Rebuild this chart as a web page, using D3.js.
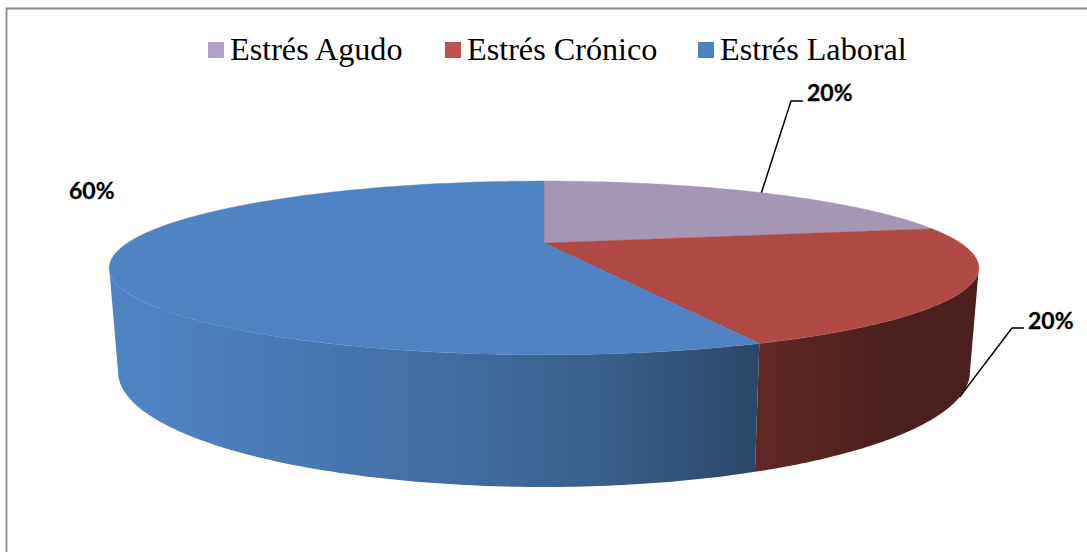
<!DOCTYPE html>
<html>
<head>
<meta charset="utf-8">
<script src="https://cdn.jsdelivr.net/npm/d3@7/dist/d3.min.js"></script>
<style>
html,body{margin:0;padding:0;background:#fff}
svg{display:block}
</style>
</head>
<body>
<svg id="chart" width="1087" height="552"></svg>
<script>
// Data
const categories = ["Estrés Agudo", "Estrés Crónico", "Estrés Laboral"];
const percentLabels = ["20%", "20%", "60%"];
// Slice shares as they are actually drawn in the picture (the printed labels are rounded)
const drawnShares = [22, 21.8, 56.2];

// Styles
const legendColors = ["#b1a0c7", "#c0504d", "#4f81bd"];
const topColors = ["#a696b6", "#b04a45", "#4f83c4"];
const wallStops = [
  null,
  [[755, "#622826"], [880, "#4c201d"], [979, "#4a1f1d"]],
  [[108, "#4f83c4"], [150, "#4f83c4"], [230, "#4c7dbb"], [400, "#4471a8"], [600, "#395f8b"], [759, "#2b4769"]]
];

const svg = d3.select("#chart");
const defs = svg.append("defs");

// Frame
svg.append("path").attr("d", "M6.5,552V8.5H1087").attr("fill", "none")
  .attr("stroke", "#8a8a8a").attr("stroke-width", 1.8);

// Perspective model of the disc
const cx = 544, k = 0.287;
const rim = {
  top: {A: 416.5, C: 243, B: 10},
  bottom: {A: 408, C: 338.9, B: 8.3}
};
function project(theta, r, m) {
  const x = r * Math.sin(theta), y = r * Math.cos(theta), w = 1 + k * y;
  return [cx + m.A * x / w, (m.C - m.B * y) / w];
}
const pie = d3.pie().sort(null).value(d => d).startAngle(0).endAngle(2 * Math.PI);
const arcs = pie(drawnShares);
const line = d3.line();
const silhouetteA = Math.acos(-k), silhouetteB = 2 * Math.PI - silhouetteA;
const samples = (a, b, n = 120) => d3.range(n + 1).map(i => a + (b - a) * i / n);

// Side walls
const wallLayer = svg.append("g");
arcs.forEach((d, i) => {
  const a = Math.max(d.startAngle, silhouetteA), b = Math.min(d.endAngle, silhouetteB);
  if (a >= b || !wallStops[i]) return;
  const stops = wallStops[i];
  const x0 = stops[0][0], x1 = stops[stops.length - 1][0];
  const pos = d3.scaleLinear().domain([x0, x1]).range([0, 100]);
  const g = defs.append("linearGradient").attr("id", "wall" + i)
    .attr("gradientUnits", "userSpaceOnUse")
    .attr("x1", x0).attr("x2", x1).attr("y1", 0).attr("y2", 0);
  stops.forEach(s => g.append("stop").attr("offset", pos(s[0]) + "%").attr("stop-color", s[1]));
  const ts = samples(a, b);
  const pts = ts.map(t => project(t, 1, rim.top))
    .concat(ts.slice().reverse().map(t => project(t, 1, rim.bottom)));
  wallLayer.append("path").attr("d", line(pts) + "Z").attr("fill", `url(#wall${i})`);
});

// Top faces
const topLayer = svg.append("g");
arcs.forEach((d, i) => {
  const pts = [project(0, 0, rim.top)].concat(
    samples(d.startAngle, d.endAngle).map(t => project(t, 1, rim.top)));
  topLayer.append("path").attr("d", line(pts) + "Z")
    .attr("fill", topColors[i]).attr("stroke", topColors[i]).attr("stroke-width", 0.4);
});

// Legend
const legendSwatchX = [208, 445, 698];
const legend = svg.append("g");
categories.forEach((c, i) => {
  legend.append("rect").attr("x", legendSwatchX[i]).attr("y", 42)
    .attr("width", 16).attr("height", 16).attr("fill", legendColors[i]);
  legend.append("text").attr("x", legendSwatchX[i] + 22).attr("y", 60)
    .attr("font-family", "'Liberation Serif', serif").attr("font-size", 32.2)
    .attr("fill", "#000").text(c);
});

// Data labels and leader lines
const mid = d => (d.startAngle + d.endAngle) / 2;
const labelSpec = [
  {anchor: project(mid(arcs[0]), 1, rim.top), knee: [791, 101], end: [803, 101], x: 807, y: 101},
  {anchor: project(mid(arcs[1]), 1, rim.bottom), knee: [1012, 328], end: [1024, 328], x: 1028, y: 329},
  {x: 69, y: 199}
];
const labels = svg.append("g");
labelSpec.forEach((s, i) => {
  if (s.anchor) {
    labels.append("path").attr("d", line([s.anchor, s.knee, s.end]))
      .attr("fill", "none").attr("stroke", "#000").attr("stroke-width", 1.5);
  }
  labels.append("text").attr("x", s.x).attr("y", s.y)
    .attr("font-family", "Lato, sans-serif").attr("font-weight", 700).attr("font-size", 23)
    .attr("fill", "#000").attr("stroke", "#000").attr("stroke-width", 0.3).text(percentLabels[i]);
});
</script>
</body>
</html>
